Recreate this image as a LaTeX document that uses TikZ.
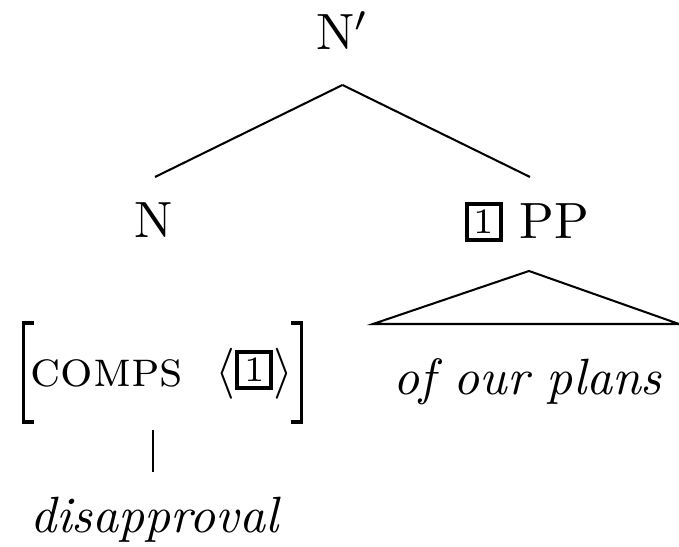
\documentclass[tikz,border=0pt]{standalone}
\newcommand{\tagbox}[1]{\raisebox{1.0pt}{\setlength{\fboxsep}{0.85pt}\setlength{\fboxrule}{0.75pt}\fbox{\makebox[4.25pt]{\scriptsize #1}}}}
\begin{document}
\begin{tikzpicture}[x=0.19608pt,y=-0.19608pt,
  lbl/.style={anchor=base,inner sep=0pt,outer sep=0pt},
  branch/.style={line width=0.4pt},
  brak/.style={line width=0.6pt,line join=miter}]
\useasboundingbox (0,0) rectangle (679,547);
\node[lbl] (Nbar) at (342.5,50) {N$'$};
\node[lbl] (N) at (153.5,238) {N};
\node[lbl] (PP) at (527,239) {\tagbox{1} PP};
\node[lbl] (avm) at (162,387) {\textsc{comps}\hspace{6.3pt}$\langle\mbox{\tagbox{1}}\rangle$};
\node[lbl] (plans) at (528,395) {\textit{of our plans}};
\node[lbl] (dis) at (155.5,533) {\textit{disapproval}};
% tree branches
\draw[branch] ([shift={(0,35)}]Nbar.base) -- ([shift={(1.5,-61)}]N.base);
\draw[branch] ([shift={(0,35)}]Nbar.base) -- ([shift={(3,-62)}]PP.base);
% triangle
\coordinate (triL) at ([shift={(-155,-71)}]plans.base);
\coordinate (triR) at ([shift={(151,-71)}]plans.base);
\draw[branch] ([shift={(2,32)}]PP.base) -- (triL) -- (triR) -- cycle;
% brackets of the AVM
\draw[brak] ([shift={(-128.3,-64)}]avm.base) -- ([shift={(-138.3,-64)}]avm.base) -- ([shift={(-138.3,35)}]avm.base) -- ([shift={(-128.3,35)}]avm.base);
\draw[brak] ([shift={(129.5,-64)}]avm.base) -- ([shift={(139.5,-64)}]avm.base) -- ([shift={(139.5,35)}]avm.base) -- ([shift={(129.5,35)}]avm.base);
% vertical line to the word
\draw[branch] ([shift={(-9,43)}]avm.base) -- ([shift={(-2.5,-61)}]dis.base);
\end{tikzpicture}
\end{document}
